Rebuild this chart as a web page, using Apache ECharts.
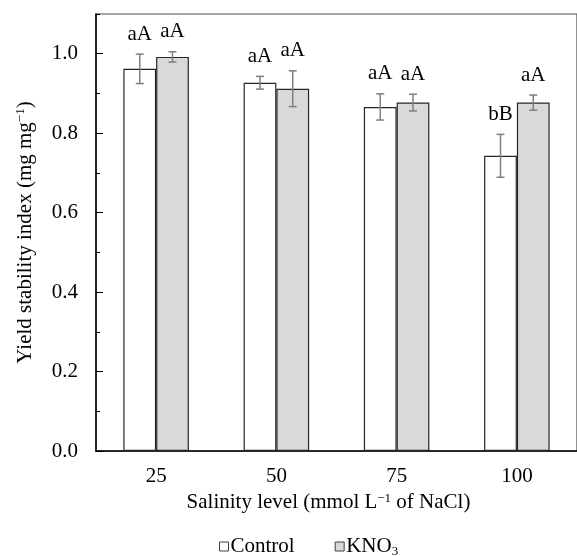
<!DOCTYPE html>
<html>
<head>
<meta charset="utf-8">
<script src="https://cdn.jsdelivr.net/npm/echarts@6/dist/echarts.min.js"></script>
<style>
    html, body { margin: 0; padding: 0; background: #fff; }
    #main { width: 577px; height: 556px; }
</style>
</head>
<body>
<div id="main"></div>
<script>
// salinity levels (mmol/L NaCl)
var levels = ['25', '50', '75', '100'];

// yield stability index, mean and error
var controlMean = [0.962, 0.927, 0.866, 0.743];
var controlErr = [0.037, 0.016, 0.033, 0.054];
var kno3Mean = [0.992, 0.912, 0.877, 0.877];
var kno3Err = [0.013, 0.045, 0.021, 0.019];

// significance letters
var controlLetters = ['aA', 'aA', 'aA', 'bB'];
var kno3Letters = ['aA', 'aA', 'aA', 'aA'];

var yTicks = [0, 0.2, 0.4, 0.6, 0.8, 1.0];

var FONT = '"Liberation Serif", "Times New Roman", serif';

/**
 * error bar + letter, side = -1 (control) / 1 (KNO3)
 */
function errorItem(letters, side) {
    return function (params, api) {
        var i = api.value(0), m = api.value(1), e = api.value(2);
        var w = api.size([1, 0])[0];
        var off = side * w * 0.136;
        var hi = api.coord([i, m + e]);
        var lo = api.coord([i, m - e]);
        var x = hi[0] + off;
        var st = { stroke: '#7f7f7f', lineWidth: 1.5 };
        return {
            type: 'group',
            children: [
                { type: 'line', shape: { x1: x, y1: hi[1], x2: x, y2: lo[1] }, style: st },
                { type: 'line', shape: { x1: x - 4, y1: hi[1], x2: x + 4, y2: hi[1] }, style: st },
                { type: 'line', shape: { x1: x - 4, y1: lo[1], x2: x + 4, y2: lo[1] }, style: st },
                {
                    type: 'text',
                    style: {
                        text: letters[params.dataIndex],
                        x: x, y: hi[1] - 20,
                        align: 'center', verticalAlign: 'middle',
                        font: '21px ' + FONT, fill: '#000'
                    }
                }
            ]
        };
    };
}

function errData(means, errs) {
    return means.map(function (m, i) { return [i, m, errs[i]]; });
}

var supRich = {
    sup: { fontSize: 13, fontFamily: FONT, verticalAlign: 'top', lineHeight: 22, color: '#000' }
};

var char = echarts.init(document.getElementById('main'));

char.setOption({
    animation: false,
    grid: {
        left: 96, top: 14, width: 492, height: 437,
        show: true, borderColor: '#4d4d4d', borderWidth: 1.2
    },
    legend: {
        top: 531, left: 214,
        itemWidth: 9, itemHeight: 9, itemGap: 40,
        icon: 'rect',
        textStyle: {
            fontFamily: FONT, fontSize: 21, color: '#000', padding: [0, 0, 0, -3],
            rich: {
                n: { fontFamily: FONT, fontSize: 21, lineHeight: 24, color: '#000' },
                sub: { fontFamily: FONT, fontSize: 13, lineHeight: 24, verticalAlign: 'bottom', color: '#000' }
            }
        },
        formatter: function (name) {
            return name === 'KNO3' ? '{n|KNO}{sub|3}' : '{n|' + name + '}';
        },
        data: [
            { name: 'Control', itemStyle: { color: '#fff', borderColor: '#404040', borderWidth: 1 } },
            { name: 'KNO3', itemStyle: { color: '#d9d9d9', borderColor: '#404040', borderWidth: 1 } }
        ]
    },
    xAxis: {
        type: 'category',
        data: levels,
        name: 'Salinity level (mmol L{sup|\u22121} of NaCl)',
        nameLocation: 'middle',
        nameGap: 38,
        nameTextStyle: {
            fontFamily: FONT, fontSize: 21, color: '#000', padding: [0, 16, 0, 0],
            rich: supRich
        },
        axisLine: { lineStyle: { color: '#000', width: 1.5 } },
        axisTick: { inside: true, length: 5, lineStyle: { color: '#000' } },
        axisLabel: { fontFamily: FONT, fontSize: 21, color: '#000', margin: 15 }
    },
    yAxis: [
        {
            type: 'value',
            min: 0, max: 1.1, interval: 0.2,
            name: 'Yield stability index (mg mg{sup|\u22121})',
            nameLocation: 'middle',
            nameGap: 60,
            nameTextStyle: { fontFamily: FONT, fontSize: 21, color: '#000', rich: supRich },
            axisLine: { show: true, lineStyle: { color: '#000', width: 1.5 } },
            axisTick: { show: true, inside: true, length: 7, lineStyle: { color: '#000' } },
            splitLine: { show: false },
            axisLabel: {
                fontFamily: FONT, fontSize: 21, color: '#000', margin: 18,
                showMaxLabel: false,
                formatter: function (v) { return yTicks.indexOf(+v.toFixed(1)) >= 0 ? v.toFixed(1) : ''; }
            }
        },
        {
            // minor ticks
            type: 'value', position: 'left', offset: 0,
            min: 0, max: 1.1, interval: 0.1,
            axisLine: { show: false },
            axisTick: { show: true, inside: true, length: 4, lineStyle: { color: '#000' } },
            axisLabel: { show: false },
            splitLine: { show: false }
        }
    ],
    series: [
        {
            name: 'Control', type: 'bar', data: controlMean,
            barGap: 0, barCategoryGap: '45.5%',
            itemStyle: { color: '#fff', borderColor: '#262626', borderWidth: 1.2 }
        },
        {
            name: 'KNO3', type: 'bar', data: kno3Mean,
            itemStyle: { color: '#d9d9d9', borderColor: '#262626', borderWidth: 1.2 }
        },
        {
            type: 'custom', z: 5,
            renderItem: errorItem(controlLetters, -1),
            data: errData(controlMean, controlErr), encode: { x: 0, y: 1 }
        },
        {
            type: 'custom', z: 5,
            renderItem: errorItem(kno3Letters, 1),
            data: errData(kno3Mean, kno3Err), encode: { x: 0, y: 1 }
        }
    ]
});
</script>
</body>
</html>
